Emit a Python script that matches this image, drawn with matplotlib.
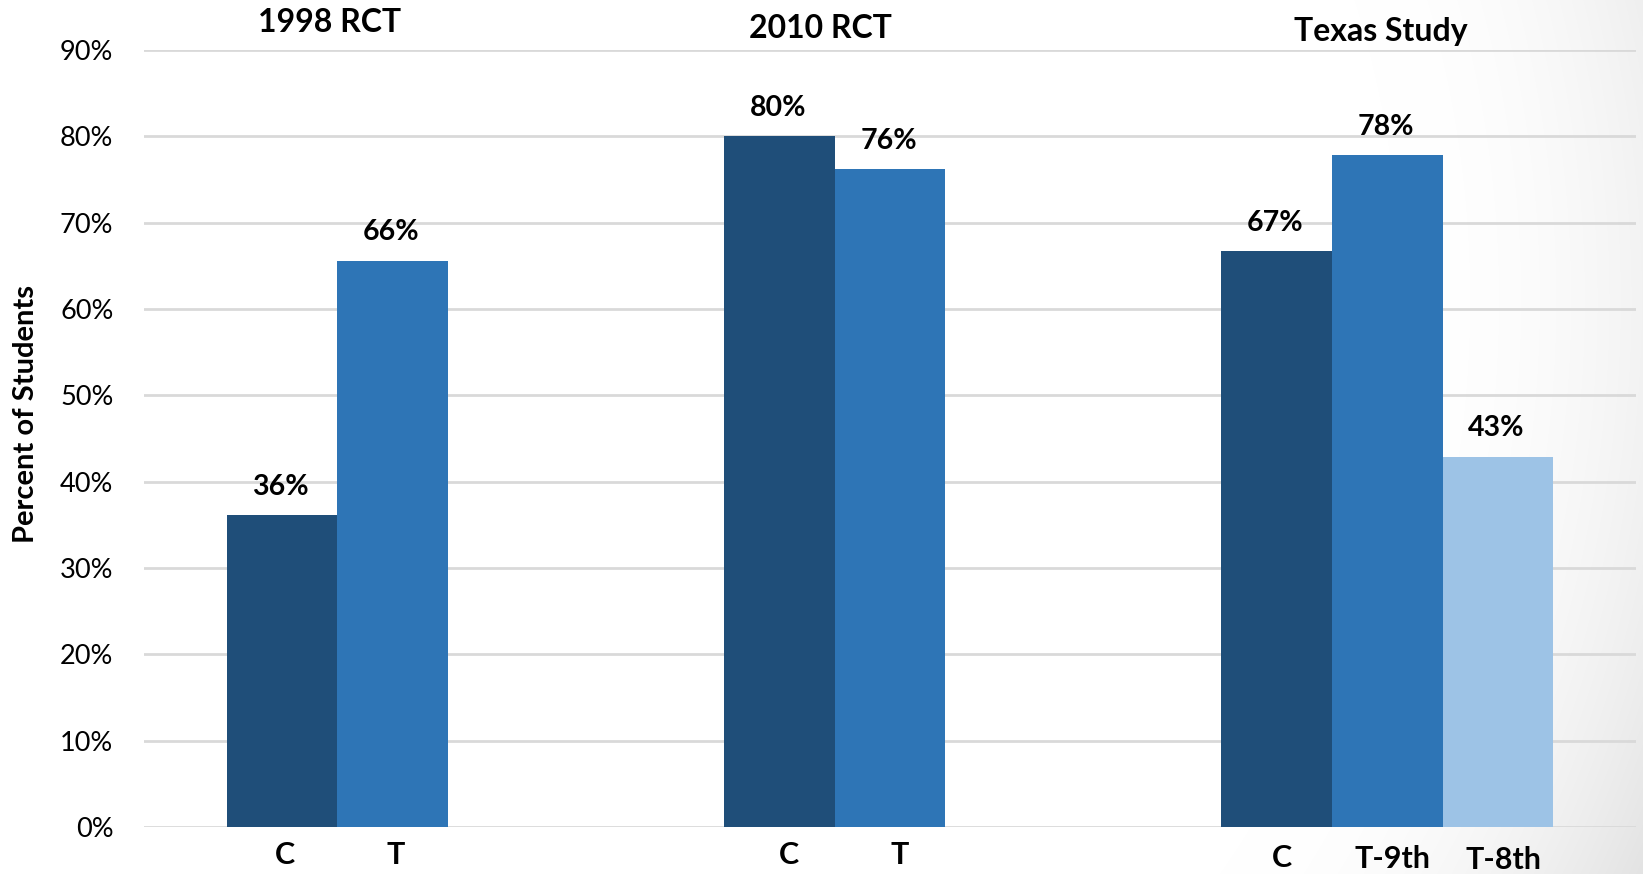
import numpy as np
import matplotlib
matplotlib.use("Agg")
import matplotlib.pyplot as plt

plt.rcParams['font.family'] = ['Lato', 'DejaVu Sans']

# study groups and the bars inside each one
studies = ["1998 RCT", "2010 RCT", "Texas Study"]
control = [36.1, 80.0, 66.7]          # C
treated = [65.6, 76.2, 77.8]          # T / T-9th
treated_8th = [np.nan, np.nan, 42.9]  # T-8th, Texas only
bar_labels = [["C", "T"], ["C", "T"], ["C", "T-9th", "T-8th"]]
yticks = [0, 10, 20, 30, 40, 50, 60, 70, 80, 90]

dark = "#1f4e79"
mid = "#2e75b6"
light = "#9dc3e6"

W, H = 1643, 874
fig = plt.figure(figsize=(W / 100, H / 100), dpi=100)

# soft grey shading towards the right-hand corners
bg = fig.add_axes([0, 0, 1, 1], zorder=-10)
yy, xx = np.mgrid[0:H, 0:W]
r = np.hypot(xx - 400, yy - 300)
t = np.clip((r - 1000) / 369, 0, 1)
shade = 1 - 0.11 * t ** 2
bg.imshow(np.dstack([shade] * 3), extent=[0, 1, 0, 1], aspect="auto",
          interpolation="bilinear", vmin=0, vmax=1)
bg.set_axis_off()

ax = fig.add_axes([144 / W, (H - 827) / H, (1636 - 144) / W, (827 - 50) / H])
ax.patch.set_alpha(0)

x = np.arange(len(studies))
w = 0.2225
series = [(control, dark, -1), (treated, mid, 0), (treated_8th, light, 1)]
for vals, col, slot in series:
    pos = x + slot * w
    ax.bar(pos, vals, width=w, color=col, zorder=3)
    for xb, v in zip(pos, vals):
        if np.isnan(v):
            continue
        ax.annotate(f"{v:.0f}%", (xb, v), xytext=(-1, 11), textcoords="offset points",
                    ha="center", va="bottom", fontsize=20.5, fontweight="bold")

# category labels under each bar
nudge = [2, 7, 4]
drop = [[0, 0], [0, 0], [-2, -3, -4]]
for i, labs in enumerate(bar_labels):
    for j, lab in enumerate(labs):
        ax.annotate(lab, (x[i] + (j - 1) * w, 0), xytext=(nudge[i], -10 + drop[i][j]),
                    textcoords="offset points", ha="center", va="top",
                    fontsize=22, fontweight="bold", annotation_clip=False)

ax.set_xlim(-0.5, 2.5)
ax.set_ylim(0, 90)
ax.set_yticks(yticks)
ax.set_yticklabels([f"{t}%" for t in yticks], fontsize=19.5)
ax.tick_params(axis="y", length=0, pad=22)
ax.set_xticks([])
ax.yaxis.grid(True, color="#d9d9d9", linewidth=2, zorder=0)
for s in ax.spines.values():
    s.set_visible(False)

# study headings
head_x = [330, 820, 1381]
head_y = [23, 29, 31]
for name, hx, hy in zip(studies, head_x, head_y):
    fig.text(hx / W, 1 - hy / H, name, ha="center", va="center",
             fontsize=23, fontweight="bold")

fig.text(26 / W, 1 - 414 / H, "Percent of Students", rotation=90,
         ha="center", va="center", fontsize=21, fontweight="bold")

fig.savefig("out.png", dpi=100)
